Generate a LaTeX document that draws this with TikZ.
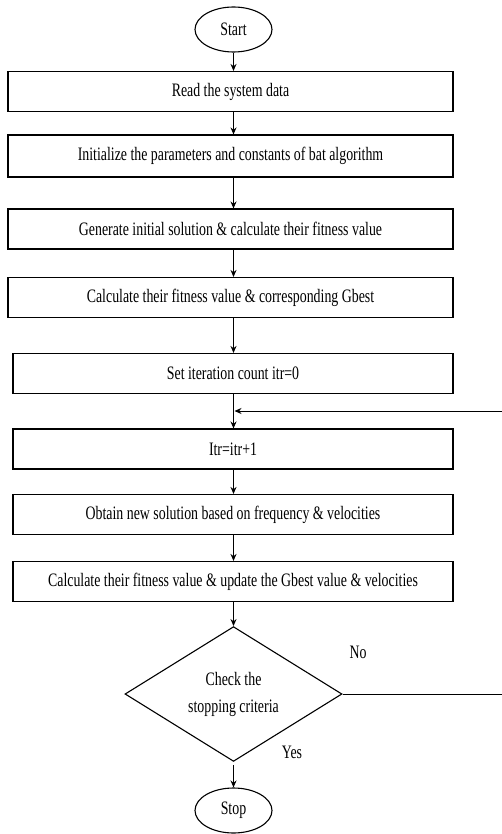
\documentclass[tikz,border=0pt]{standalone}
\usepackage{fontspec}
\setmainfont{Liberation Serif}[FakeStretch=0.73]
\usepackage{tikz}
\usetikzlibrary{shapes.geometric}
\usetikzlibrary{positioning}
\usetikzlibrary{arrows.meta}

\tikzset{
  flowtext/.style={font=\fontsize{19}{27}\selectfont},
  procbox/.style={draw, rectangle, line width=1.1pt, minimum height=40pt, inner sep=0pt, flowtext},
  terminal/.style={draw, ellipse, line width=1.1pt, minimum width=77pt, minimum height=45pt, inner sep=0pt, flowtext},
  decision/.style={draw, diamond, line width=1.1pt, minimum width=217pt, minimum height=118pt, inner sep=0pt, align=center, flowtext},
  flowarrow/.style={line width=1pt, -{Stealth[length=7pt,width=6pt]}},
}

\begin{document}
\begin{tikzpicture}[x=1pt,y=-1pt]
\useasboundingbox (0,0) rectangle (502,834);

%---------------------------------------
% Positions
%---------------------------------------
\def\xc{233.5}   % main flow line
\def\xtop{230.5} % upper boxes
\def\xlow{233}   % lower boxes

%====================================================
% Nodes
%====================================================
\node[terminal] (start) at (\xc,29.5) {Start};

\node[procbox, minimum width=445pt] (read) at (\xtop,91.5) {Read the system data};
\node[procbox, minimum width=445pt, minimum height=42pt] (init) at (\xtop,156)
  {Initialize the parameters and constants of bat algorithm};
\node[procbox, minimum width=445pt] (gen) at (\xtop,229)
  {Generate initial solution \& calculate their fitness value};
\node[procbox, minimum width=445pt] (gbest) at (\xtop,297.5)
  {Calculate their fitness value \& corresponding Gbest};

\node[procbox, minimum width=440pt] (setitr) at (\xlow,373.5) {Set iteration count itr=0};
\node[procbox, minimum width=440pt] (incitr) at (\xlow,449) {Itr=itr+1};
\node[procbox, minimum width=440pt] (newsol) at (\xlow,514.5)
  {Obtain new solution based on frequency \& velocities};
\node[procbox, minimum width=440pt] (update) at (\xlow,581.5)
  {Calculate their fitness value \& update the Gbest value \& velocities};

\node[decision] (check) at (\xc,694) {Check the\\stopping criteria};

\node[terminal] (stop) at (\xc,810.5) {Stop};

% Labels
\node[flowtext] (nolab) at (358,652) {No};
\node[flowtext] (yeslab) at (292,752) {Yes};

% Loop points
\coordinate (loopin) at (\xc,411);
\coordinate (rside) at (503,411);

%====================================================
% Connectors
%====================================================
\draw[flowarrow] (start) -- (read.north -| start);
\draw[flowarrow] (read.south -| start) -- (init.north -| start);
\draw[flowarrow] (init.south -| start) -- (gen.north -| start);
\draw[flowarrow] (gen.south -| start) -- (gbest.north -| start);
\draw[flowarrow] (gbest.south -| start) -- (setitr.north -| start);
\draw[flowarrow] (setitr.south -| start) -- (incitr.north -| start);
\draw[flowarrow] (incitr.south -| start) -- (newsol.north -| start);
\draw[flowarrow] (newsol.south -| start) -- (update.north -| start);
\draw[flowarrow] (update.south -| start) -- (check.north);
\draw[flowarrow, shorten <=3pt] (check.south) -- (stop.north);

% No branch back to the loop
\draw[flowarrow, shorten >=1pt] (check.east) -| (rside) -- (loopin);

\end{tikzpicture}
\end{document}
